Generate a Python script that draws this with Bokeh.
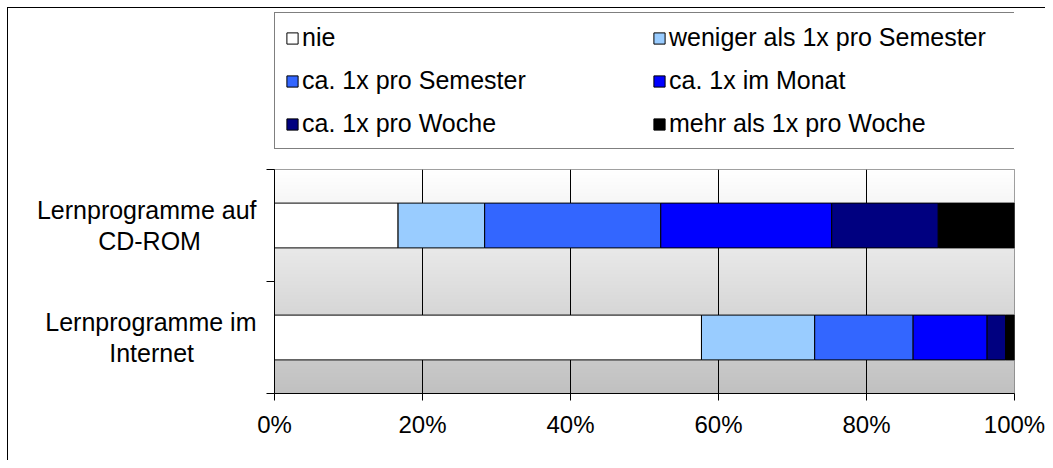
import numpy as np
from bokeh.plotting import figure
from bokeh.layouts import column
from bokeh.models import (ColumnDataSource, Range1d, FixedTicker, PrintfTickFormatter,
                          Legend, LegendItem)
from bokeh.embed import file_html
from bokeh.resources import INLINE

# ---- data ----
categories = ["Lernprogramme auf\nCD-ROM", "Lernprogramme im\nInternet"]
series_labels = ["nie", "weniger als 1x pro Semester", "ca. 1x pro Semester",
                 "ca. 1x im Monat", "ca. 1x pro Woche", "mehr als 1x pro Woche"]
series_keys = ["nie", "weniger", "semester", "monat", "woche", "mehr"]
nie = [16.7, 57.7]
weniger = [11.7, 15.3]
semester = [23.8, 13.3]
monat = [23.1, 10.0]
woche = [14.4, 2.5]
mehr = [10.3, 1.2]
colors = ["#FFFFFF", "#99CCFF", "#3366FF", "#0000FF", "#000080", "#000000"]
x_ticks = [0, 20, 40, 60, 80, 100]

n = len(categories)
ypos = [n - i - 0.5 for i in range(n)]
source = ColumnDataSource(dict(y=ypos, nie=nie, weniger=weniger, semester=semester,
                               monat=monat, woche=woche, mehr=mehr))

FONT = "Liberation Sans"
NBSP = "\u00a0"


def centered(label, pads):
    # pad the shorter second line so both lines appear centred
    first, second = label.split("\n")
    return first + "\n" + second + NBSP * pads


# ---------------- main chart ----------------
p = figure(frame_width=740, frame_height=224,
           min_border_left=266, min_border_right=31, min_border_top=1, min_border_bottom=67,
           x_range=Range1d(0, 100), y_range=Range1d(0, n),
           output_backend="svg", toolbar_location=None)
p.background_fill_color = "white"
p.border_fill_color = "white"
p.outline_line_color = "#808080"
p.outline_line_width = 1

# gradient plot-area background (white at top to gray at bottom)
N = 224
img = np.empty((N, 1), dtype=np.uint32)
view = img.view(dtype=np.uint8).reshape((N, 1, 4))
for i in range(N):
    t = i / (N - 1)
    g = int(round(192 + (255 - 192) * t))
    view[i, 0, :] = [g, g, g, 255]
p.image_rgba(image=[img], x=0, y=0, dw=100, dh=n, level="image")

p.hbar_stack(series_keys, y="y", height=0.4, color=colors, source=source,
             line_color="black", line_width=1)

p.ygrid.grid_line_color = None
p.xgrid.grid_line_color = "black"
p.xgrid.grid_line_width = 1
p.xgrid.ticker = FixedTicker(ticks=x_ticks)

xa = p.xaxis[0]
xa.ticker = FixedTicker(ticks=x_ticks)
xa.formatter = PrintfTickFormatter(format="%d%%")
xa.axis_line_color = "black"
xa.major_tick_line_color = "black"
xa.major_tick_in = 0
xa.major_tick_out = 7
xa.minor_tick_line_color = None
xa.major_label_text_font = FONT
xa.major_label_text_font_size = "24px"
xa.major_label_text_color = "black"
xa.major_label_standoff = 10

ya = p.yaxis[0]
ya.ticker = FixedTicker(ticks=ypos, minor_ticks=list(range(n + 1)))
ya.major_label_overrides = {y: centered(c, k) for y, c, k in zip(ypos, categories, [8, 9])}
ya.axis_line_color = "black"
ya.major_tick_line_color = None
ya.major_tick_in = 0
ya.major_tick_out = 0
ya.minor_tick_line_color = "black"
ya.minor_tick_in = 0
ya.minor_tick_out = 8
ya.major_label_text_font = FONT
ya.major_label_text_font_size = "25px"
ya.major_label_text_color = "black"
ya.major_label_text_line_height = 1.13
ya.major_label_standoff = 10

# ---------------- legend panel ----------------
# the legend figure shows the same stacked renderers, but its ranges keep the bars out of view
lf = figure(frame_width=740, frame_height=160,
            min_border_left=266, min_border_right=31, min_border_top=0, min_border_bottom=0,
            x_range=Range1d(0, 100), y_range=Range1d(n + 10, n + 11),
            x_axis_location=None, y_axis_location=None,
            output_backend="svg", toolbar_location=None)
lf.outline_line_color = None
lf.grid.visible = False
lf.background_fill_color = "white"
lf.border_fill_color = "white"
leg_renderers = lf.hbar_stack(series_keys, y="y", height=0.4, color=colors, source=source,
                              line_color="black", line_width=1)

legend = Legend(items=[LegendItem(label=l, renderers=[r]) for l, r in zip(series_labels, leg_renderers)],
                orientation="horizontal", ncols=2, location=(0, 19),
                glyph_width=14, glyph_height=14, label_standoff=3,
                label_width=336, label_height=29,
                spacing=14, padding=10, margin=0,
                label_text_font=FONT, label_text_font_size="25px", label_text_color="black",
                border_line_color="black", border_line_width=1,
                background_fill_color="white", background_fill_alpha=1.0)
lf.add_layout(legend)

layout = column(lf, p, spacing=0)
layout.styles = {"margin-left": "7px", "margin-top": "7px",
                 "border-left": "1px solid black", "border-top": "1px solid black"}

open("out.html", "w").write(file_html(layout, INLINE))
